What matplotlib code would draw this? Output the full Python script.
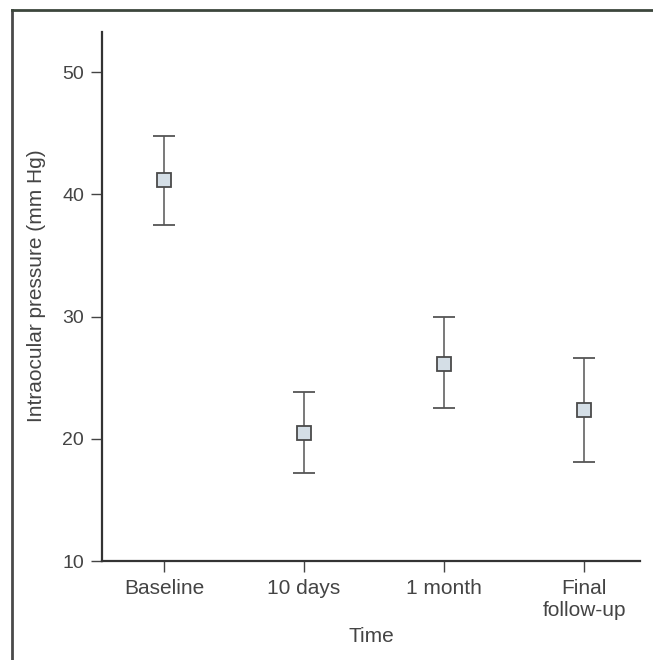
import numpy as np
import matplotlib
matplotlib.use("Agg")
import matplotlib.pyplot as plt
from matplotlib.lines import Line2D

plt.rcParams['font.family'] = ['Liberation Sans', 'DejaVu Sans']

# values
labels = ["Baseline", "10 days", "1 month", "Final\nfollow-up"]
means = [41.15, 20.5, 26.1, 22.35]
upper = [44.75, 23.8, 30.0, 26.6]
lower = [37.5, 17.2, 22.55, 18.1]
yticks = [10, 20, 30, 40, 50]

x = np.arange(1, len(labels) + 1)
means = np.array(means)
yerr = np.vstack([means - np.array(lower), np.array(upper) - means])

fig = plt.figure(figsize=(6.53, 6.60), dpi=100)
ax = fig.add_axes([102 / 653, 99 / 660, 538 / 653, 529 / 660])

ax.errorbar(x, means, yerr=yerr, fmt="s", color="#555555", ecolor="#555555",
            elinewidth=1.1, capsize=8, capthick=1.1, markersize=10,
            markerfacecolor="#d4dee6", markeredgecolor="#4a4a4a",
            markeredgewidth=1.3, zorder=3)

ax.set_xlim(0.557, 4.40)
ax.set_ylim(10, 53.3)
ax.set_xticks(x)
ax.set_xticklabels(labels, linespacing=1.2)
ax.set_yticks(yticks)

for s in ["top", "right"]:
    ax.spines[s].set_visible(False)
for s in ["left", "bottom"]:
    ax.spines[s].set_color("#333333")
    ax.spines[s].set_linewidth(1.6)

ax.tick_params(axis="both", direction="out", length=8, width=1, color="#444444",
               labelcolor="#444444", pad=5)
ax.tick_params(axis="y", labelsize=14)
ax.tick_params(axis="x", labelsize=15, pad=5)

ax.set_xlabel("Time", fontsize=15, color="#444444")
ax.set_ylabel("Intraocular pressure (mm Hg)", fontsize=15, color="#444444")
ax.xaxis.set_label_coords(0.5, -0.125)
ax.yaxis.set_label_coords(-0.105, 0.5 + (296 - 285) / 529)

# outer frame (left and top edges visible in the reference)
fig.add_artist(Line2D([12 / 653, 12 / 653], [0, 650 / 660], transform=fig.transFigure,
                      color="#4a4a4a", linewidth=2.0))
fig.add_artist(Line2D([12 / 653, 1], [650 / 660, 650 / 660], transform=fig.transFigure,
                      color="#3c463c", linewidth=2.0))

fig.savefig("out.png", dpi=100)
